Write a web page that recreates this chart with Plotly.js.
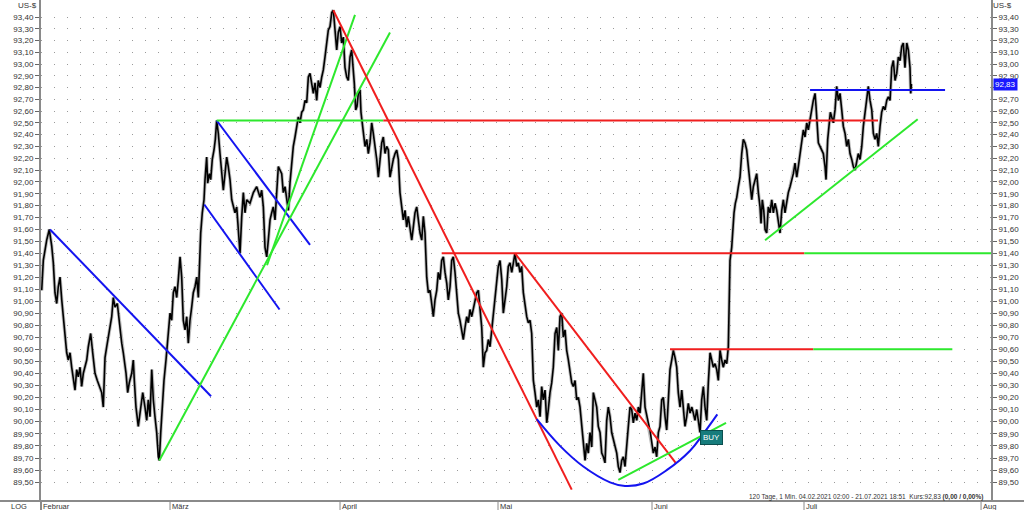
<!DOCTYPE html>
<html><head><meta charset="utf-8">
<script src="https://cdn.plot.ly/plotly-3.0.1.min.js"></script>
<style>html,body{margin:0;padding:0;background:#fff}#chart{width:1024px;height:510px}</style>
</head><body><div id="chart"></div>
<script>
// x = trading-day index since 04.02.2021, y = US-$ index
const dayIdx = [0.10,0.32,0.79,1.15,1.49,1.71,1.94,2.18,2.40,2.64,2.88,3.10,3.33,3.57,3.79,4.03,4.26,4.49,4.72,4.96,5.18,5.42,5.65,5.88,6.35,6.57,6.90,7.18,7.50,7.82,8.10,8.43,8.65,8.75,8.89,9.13,9.35,9.58,9.82,10.04,10.28,10.60,10.88,11.21,11.43,11.81,12.04,12.26,12.60,12.82,12.96,13.19,13.51,13.75,14.13,14.44,14.68,14.90,15.14,15.38,15.60,15.83,16.07,16.29,16.43,16.63,16.85,17.08,17.36,17.54,17.74,17.92,18.15,18.38,18.61,18.85,19.07,19.31,19.54,19.76,20.00,20.24,20.46,20.69,20.93,21.15,21.39,21.63,21.85,21.99,22.18,22.40,22.64,22.78,23.01,23.15,23.38,23.57,23.79,24.03,24.21,24.40,24.63,24.86,25.10,25.32,25.56,25.79,26.01,26.25,26.49,26.71,26.94,27.18,27.40,27.64,27.88,28.10,28.33,28.57,29.03,29.49,29.96,30.42,30.65,30.88,31.11,31.35,31.57,31.81,32.04,32.26,32.50,32.74,32.96,
33.43,33.65,33.89,34.13,34.35,34.58,34.82,35.04,35.28,35.51,35.74,35.97,36.21,36.43,36.67,36.90,37.13,37.36,37.60,37.82,38.06,38.29,38.51,38.75,38.99,39.21,39.44,39.68,39.90,40.14,40.38,40.60,40.83,41.07,41.29,41.53,41.76,41.99,42.22,42.46,42.68,42.92,43.15,43.38,43.51,43.71,43.89,44.07,44.31,44.44,44.63,44.82,45.00,45.24,45.46,45.69,45.93,46.15,46.39,46.63,46.85,47.08,47.32,47.54,47.78,48.01,48.24,48.47,48.71,48.93,49.17,49.40,49.63,49.86,50.10,50.32,50.56,50.79,51.01,51.25,51.49,51.71,51.94,52.18,52.40,52.64,52.88,53.10,53.33,53.57,53.79,54.03,54.26,54.49,54.72,54.96,55.18,55.42,55.65,55.88,56.11,56.35,56.57,56.81,57.04,57.26,57.50,57.74,57.96,58.19,58.43,58.65,58.89,59.13,59.35,59.58,59.82,60.04,60.28,60.51,60.74,60.97,61.21,61.43,61.67,61.90,62.13,62.36,62.60,62.82,63.06,63.29,63.51,63.75,63.99,64.21,64.44,64.68,64.90,65.14,65.38,65.60,
65.83,66.07,66.29,66.53,66.76,66.99,67.22,67.46,67.68,67.92,68.15,68.29,68.38,68.61,68.85,69.07,69.31,69.54,69.76,70.00,70.24,70.46,70.69,70.93,71.15,71.39,71.63,71.85,72.08,72.32,72.54,72.78,73.01,73.24,73.47,73.71,73.93,74.17,74.40,74.63,74.86,75.10,75.32,75.56,75.79,76.01,76.25,76.49,76.71,76.94,77.18,77.40,77.64,77.88,78.10,78.33,78.57,78.79,79.03,79.26,79.49,79.72,79.96,80.18,80.42,80.65,80.88,81.11,81.35,81.57,81.81,82.04,82.26,82.50,82.74,82.96,83.19,83.43,83.65,83.89,84.13,84.35,84.58,84.82,85.04,85.28,85.51,85.74,85.97,86.21,86.43,86.67,86.90,87.13,87.36,87.60,87.82,88.06,88.29,88.51,88.75,88.99,89.21,89.44,89.68,89.90,90.14,90.38,90.60,90.83,91.07,91.29,91.53,91.76,91.99,92.22,92.46,92.68,92.92,93.15,93.38,93.61,93.85,94.07,94.31,94.54,94.76,95.00,95.24,95.46,95.56,95.69,95.93,96.07,96.25,96.43,96.63,96.85,97.08,97.32,97.54,97.78,98.01,98.24,98.47,
98.71,98.93,99.17,99.40,99.63,99.86,100.00,100.18,100.38,100.56,100.79,101.01,101.25,101.49,101.71,101.94,102.18,102.40,102.64,102.88,103.10,103.33,103.57,103.79,104.03,104.26,104.49,104.72,104.96,105.18,105.42,105.65,105.88,106.11,106.35,106.57,106.81,107.04,107.26,107.50,107.64,107.82,107.96,108.19,108.43,108.65,108.89,109.03,109.26,109.44,109.63,109.82,110.04,110.28,110.51,110.74,110.97,111.21,111.43,111.67,111.90,112.13,112.36,112.60,112.82,113.06,113.29,113.51,113.75,113.99,114.21,114.44,114.68,114.90,115.14,115.38,115.60,115.83,116.07,116.29,116.53,116.76,116.99,117.22,117.46,117.68,117.92,118.15,118.38,118.61,118.85,119.07,119.31,119.54,119.76,119.99,120.24,120.46,120.69,120.79,120.88];
const price = [91.09,91.34,91.51,91.60,91.46,91.32,91.07,90.98,91.12,91.20,91.01,90.87,90.73,90.57,90.51,90.57,90.45,90.34,90.26,90.43,90.37,90.45,90.29,90.40,90.51,90.62,90.73,90.57,90.40,90.34,90.29,90.24,90.12,90.34,90.53,90.62,90.70,90.78,90.87,91.03,90.95,90.98,90.82,90.65,90.57,90.40,90.24,90.32,90.40,90.51,90.34,90.12,89.96,90.07,90.24,90.12,90.01,90.18,90.04,90.43,90.18,90.04,89.91,89.71,89.68,89.91,90.18,90.34,90.51,90.62,90.78,90.90,90.84,91.07,91.12,91.03,91.18,91.37,91.20,90.84,90.76,90.87,90.65,90.84,90.95,91.07,91.12,91.20,91.03,91.24,91.57,91.74,91.85,92.02,92.21,91.99,92.07,92.02,92.19,92.27,92.36,92.52,92.41,92.24,92.07,91.93,92.07,92.21,92.13,92.02,91.85,91.79,91.74,91.79,91.57,91.40,91.71,91.91,91.74,91.85,91.82,91.91,91.96,91.87,91.93,91.79,91.45,91.37,91.51,91.68,91.74,91.79,91.68,91.96,92.13,
92.07,91.91,91.96,91.85,91.76,91.99,92.19,92.30,92.38,92.47,92.55,92.50,92.59,92.61,92.69,92.67,92.89,92.92,92.84,92.75,92.84,92.69,92.86,92.80,92.89,92.95,93.06,93.18,93.29,93.32,93.44,93.46,93.27,93.12,93.27,93.32,93.18,93.23,92.97,92.89,92.86,93.06,93.12,92.97,92.84,92.61,92.64,92.75,92.78,92.59,92.47,92.38,92.30,92.36,92.24,92.33,92.50,92.41,92.30,92.19,92.04,92.19,92.33,92.38,92.24,92.30,92.27,92.04,92.13,92.19,92.24,92.27,92.19,91.91,91.79,91.68,91.76,91.62,91.71,91.60,91.51,91.62,91.74,91.79,91.68,91.57,91.51,91.71,91.57,91.20,91.07,91.09,90.98,90.87,91.01,91.09,91.24,91.18,91.34,91.37,91.24,91.15,91.01,91.12,91.34,91.37,91.24,91.09,90.90,90.84,90.76,90.68,90.78,90.87,90.82,90.93,90.87,90.93,91.01,91.07,91.09,90.90,90.78,90.45,90.57,90.59,90.68,90.62,90.76,90.90,91.07,91.20,91.29,91.34,91.18,90.90,91.01,91.12,91.29,91.32,91.24,91.34,
91.40,91.29,91.32,91.24,91.29,91.07,90.95,90.87,90.82,90.84,90.73,90.51,90.34,90.24,90.12,90.18,90.04,90.29,90.18,90.26,89.99,90.10,90.24,90.32,90.45,90.73,90.78,90.59,90.87,90.90,90.70,90.76,90.59,90.51,90.40,90.32,90.29,90.34,90.18,90.20,90.12,89.96,89.82,89.68,89.82,89.74,89.91,89.79,90.24,90.18,90.12,89.96,89.91,89.74,89.71,89.66,90.01,90.12,90.04,89.91,89.85,89.79,89.74,89.63,89.58,89.68,89.71,89.63,89.85,89.96,90.12,90.10,89.99,90.07,90.01,90.12,90.07,90.24,90.40,90.12,90.04,89.99,89.93,89.82,89.74,89.79,89.71,89.91,89.96,90.18,90.20,90.04,89.93,90.18,90.43,90.51,90.59,90.53,90.45,90.24,90.12,90.26,90.12,89.96,90.04,90.15,90.07,90.12,90.07,90.01,90.10,89.99,89.91,90.18,90.29,90.12,90.01,90.32,90.57,90.51,90.45,90.48,90.43,90.34,90.59,90.51,90.45,90.51,90.48,90.62,91.01,91.34,91.45,91.62,91.74,91.82,91.87,91.96,92.04,92.24,92.36,92.33,92.27,92.13,91.96,
91.85,91.96,92.02,92.07,91.91,91.79,91.65,91.85,91.76,91.60,91.57,91.79,91.74,91.85,91.74,91.82,91.76,91.68,91.57,91.76,91.85,91.74,91.85,91.91,91.96,92.02,92.07,92.16,92.04,92.13,92.24,92.36,92.44,92.38,92.50,92.44,92.55,92.61,92.69,92.75,92.64,92.47,92.33,92.30,92.27,92.24,92.13,92.02,92.36,92.47,92.59,92.55,92.50,92.61,92.81,92.69,92.75,92.61,92.47,92.41,92.30,92.36,92.24,92.19,92.13,92.10,92.19,92.24,92.19,92.30,92.47,92.59,92.72,92.81,92.69,92.61,92.41,92.36,92.41,92.30,92.47,92.59,92.64,92.61,92.69,92.72,92.69,92.97,93.03,92.86,92.92,93.06,93.03,93.15,93.18,92.97,93.18,93.12,92.97,92.75,92.83];

// drawn analysis lines: [x0, x1], [y0, y1]
const blueDown1X = [1.25, 23.61],  blueDown1Y = [91.60, 90.21];
const blueChanUpX = [24.40, 37.36], blueChanUpY = [92.52, 91.47];
const blueChanLoX = [22.68, 33.13], blueChanLoY = [91.81, 90.93];
const greenUp1X = [16.43, 48.47],   greenUp1Y = [89.68, 93.27];
const greenUp2X = [31.39, 43.61],   greenUp2Y = [91.30, 93.42];
const greenLvl1X = [24.40, 47.54],  greenLvl1Y = [92.52, 92.52];
const redLvl1X = [47.54, 116.25],   redLvl1Y = [92.52, 92.52];
const redDown1X = [40.60, 73.71],   redDown1Y = [93.46, 89.44];
const redLvl2X = [55.65, 106.01],   redLvl2Y = [91.40, 91.40];
const greenLvl2X = [106.01, 131.94], greenLvl2Y = [91.40, 91.40];
const redDown2X = [65.83, 88.15],   redDown2Y = [91.40, 89.66];
const cupX = [68.85, 72.08, 75.32, 79.03, 81.11, 83.65, 86.90, 90.14, 91.99, 93.93];
const cupY = [90.02, 89.80, 89.63, 89.50, 89.47, 89.49, 89.60, 89.76, 89.90, 90.06];
const greenCupX = [80.18, 95.14],   greenCupY = [89.52, 89.99];
const redLvl3X = [87.36, 107.26],   redLvl3Y = [90.60, 90.60];
const greenLvl3X = [107.26, 126.57], greenLvl3Y = [90.60, 90.60];
const greenJulX = [100.56, 121.76], greenJulY = [91.51, 92.53];
const blueLvlX = [106.81, 125.56],  blueLvlY = [92.78, 92.78];

const buySignal = {x: 93.19, y: 89.87, text: 'BUY'};
const lastPrice = 92.83;

const tickVals = [89.5,89.6,89.7,89.8,89.9,90.0,90.1,90.2,90.3,90.4,90.5,90.6,90.7,90.8,90.9,91.0,91.1,91.2,91.3,91.4,91.5,91.6,91.7,91.8,91.9,92.0,92.1,92.2,92.3,92.4,92.5,92.6,92.7,92.8,92.9,93.0,93.1,93.2,93.3,93.4];
const tickText = tickVals.map(v => v.toFixed(2).replace('.', ','));
// on the right axis the last-price tag hides the neighbouring label
const tickTextRight = tickVals.map(v => Math.abs(v - lastPrice) < 0.05 ? '' : v.toFixed(2).replace('.', ','));
const monthNames = ['Februar','März','April','Mai','Juni','Juli','Aug'];
const monthPos = [0, 17.92, 41.53, 63.47, 84.86, 105.97, 130.56];

const xMax = 131.94;
const yLo = 89.347, yHi = 93.548;
const BLUE = '#1414f0', RED = '#f01e1e', GREEN = '#2de82d';
const FONT = 'Liberation Sans, Arial, sans-serif';

function seg(x, y, color, w) {
  return {x: x, y: y, type: 'scatter', mode: 'lines', line: {color: color, width: w || 2}, hoverinfo: 'skip'};
}

const n = Math.min(dayIdx.length, price.length);

const traces = [
  {x: dayIdx.slice(0, n), y: price.slice(0, n), type: 'scatter', mode: 'lines', line: {color: '#777', width: 3.4}, opacity: 0.5, hoverinfo: 'skip'},
  {x: dayIdx.slice(0, n), y: price.slice(0, n), type: 'scatter', mode: 'lines', line: {color: '#000', width: 1.6}, hoverinfo: 'skip'},
  seg(blueDown1X, blueDown1Y, BLUE),
  seg(blueChanUpX, blueChanUpY, BLUE),
  seg(blueChanLoX, blueChanLoY, BLUE),
  seg(greenUp1X, greenUp1Y, GREEN),
  seg(greenUp2X, greenUp2Y, GREEN),
  seg(greenLvl1X, greenLvl1Y, GREEN),
  seg(redLvl1X, redLvl1Y, RED),
  seg(redDown1X, redDown1Y, RED),
  seg(redLvl2X, redLvl2Y, RED),
  seg(greenLvl2X, greenLvl2Y, GREEN),
  seg(redDown2X, redDown2Y, RED),
  {x: cupX, y: cupY, type: 'scatter', mode: 'lines', line: {color: BLUE, width: 2, shape: 'spline', smoothing: 1.1}, hoverinfo: 'skip'},
  seg(greenCupX, greenCupY, GREEN),
  seg(redLvl3X, redLvl3Y, RED),
  seg(greenLvl3X, greenLvl3Y, GREEN),
  seg(greenJulX, greenJulY, GREEN),
  seg(blueLvlX, blueLvlY, BLUE),
  {x: [dayIdx[0]], y: [price[0]], yaxis: 'y2', type: 'scatter', mode: 'markers', marker: {opacity: 0}, hoverinfo: 'skip'}
];

const yCommon = {
  type: 'log', range: [Math.log10(yLo), Math.log10(yHi)],
  tickmode: 'array', tickvals: tickVals,
  ticks: 'outside', ticklen: 4, tickwidth: 1, tickcolor: '#666',
  tickfont: {family: FONT, size: 8, color: '#333'},
  showline: true, linecolor: '#8a8a8a', linewidth: 2, zeroline: false,
  fixedrange: true
};

const shapes = [];
const GL = '#8a8a8a';
shapes.push({type: 'line', xref: 'paper', yref: 'paper', x0: -41/950, x1: 1033/950, y0: 0, y1: 0, line: {color: GL, width: 2}});
shapes.push({type: 'line', xref: 'paper', yref: 'paper', x0: 0, x1: 0, y0: 0, y1: -10/501, line: {color: GL, width: 2}});
monthPos.forEach(p => {
  shapes.push({type: 'line', xref: 'x', yref: 'paper', x0: p, x1: p, y0: 0, y1: -10/501, line: {color: GL, width: 1}});
});

const annotations = [];
monthNames.forEach((m, i) => {
  annotations.push({xref: 'x', yref: 'paper', x: monthPos[i], y: 0, xanchor: 'left', yanchor: 'top', yshift: 0, xshift: 1,
    text: m, showarrow: false, font: {family: FONT, size: 7.5, color: '#333'}, borderpad: 0});
});
annotations.push({xref: 'paper', yref: 'paper', x: -22/950, y: 0, xanchor: 'center', yanchor: 'top', yshift: 0,
  text: 'LOG', showarrow: false, font: {family: FONT, size: 7.5, color: '#333'}, borderpad: 0});
annotations.push({xref: 'paper', yref: 'paper', x: -14/950, y: 1, xanchor: 'center', yanchor: 'top',
  text: 'US-$', showarrow: false, font: {family: FONT, size: 8, color: '#333'}, borderpad: 0});
annotations.push({xref: 'paper', yref: 'paper', x: 1 + 11/950, y: 1, xanchor: 'center', yanchor: 'top',
  text: 'US-$', showarrow: false, font: {family: FONT, size: 8, color: '#333'}, borderpad: 0});
annotations.push({xref: 'paper', yref: 'paper', x: 943/950, y: 4.5/501, xanchor: 'right', yanchor: 'middle',
  text: '120 Tage, 1 Min. 04.02.2021 02:00 - 21.07.2021 18:51  Kurs:92,83 <b>(0,00 / 0,00%)</b>',
  showarrow: false, font: {family: FONT, size: 6.5, color: '#333'}, borderpad: 0});
annotations.push({xref: 'paper', yref: 'y', x: 1, y: Math.log10(lastPrice), xanchor: 'left', yanchor: 'middle', xshift: 2,
  text: lastPrice.toFixed(2).replace('.', ','), showarrow: false, bgcolor: '#1a1aff',
  font: {family: FONT, size: 8, color: '#fff'}, borderpad: 1});
annotations.push({xref: 'x', yref: 'y', x: buySignal.x, y: Math.log10(buySignal.y), xanchor: 'center', yanchor: 'middle',
  text: buySignal.text, showarrow: false, bgcolor: '#167c7c', bordercolor: '#0b4f4f', borderwidth: 1,
  font: {family: FONT, size: 8, color: '#fff'}, borderpad: 2});

const layout = {
  width: 1024, height: 510,
  margin: {l: 41, r: 33, t: 0, b: 9, pad: 0},
  paper_bgcolor: '#fff', plot_bgcolor: '#fff',
  showlegend: false,
  xaxis: {range: [0, xMax], showgrid: false, zeroline: false, showticklabels: false, ticks: '', showline: false, fixedrange: true},
  yaxis: Object.assign({}, yCommon, {side: 'left', ticktext: tickText, showgrid: true, gridcolor: '#9a9a9a', gridwidth: 1, griddash: '1px,12px'}),
  yaxis2: Object.assign({}, yCommon, {side: 'right', ticktext: tickTextRight, overlaying: 'y', showgrid: false}),
  shapes: shapes,
  annotations: annotations
};

Plotly.newPlot('chart', traces, layout, {staticPlot: true, displayModeBar: false});
</script>
</body></html>
